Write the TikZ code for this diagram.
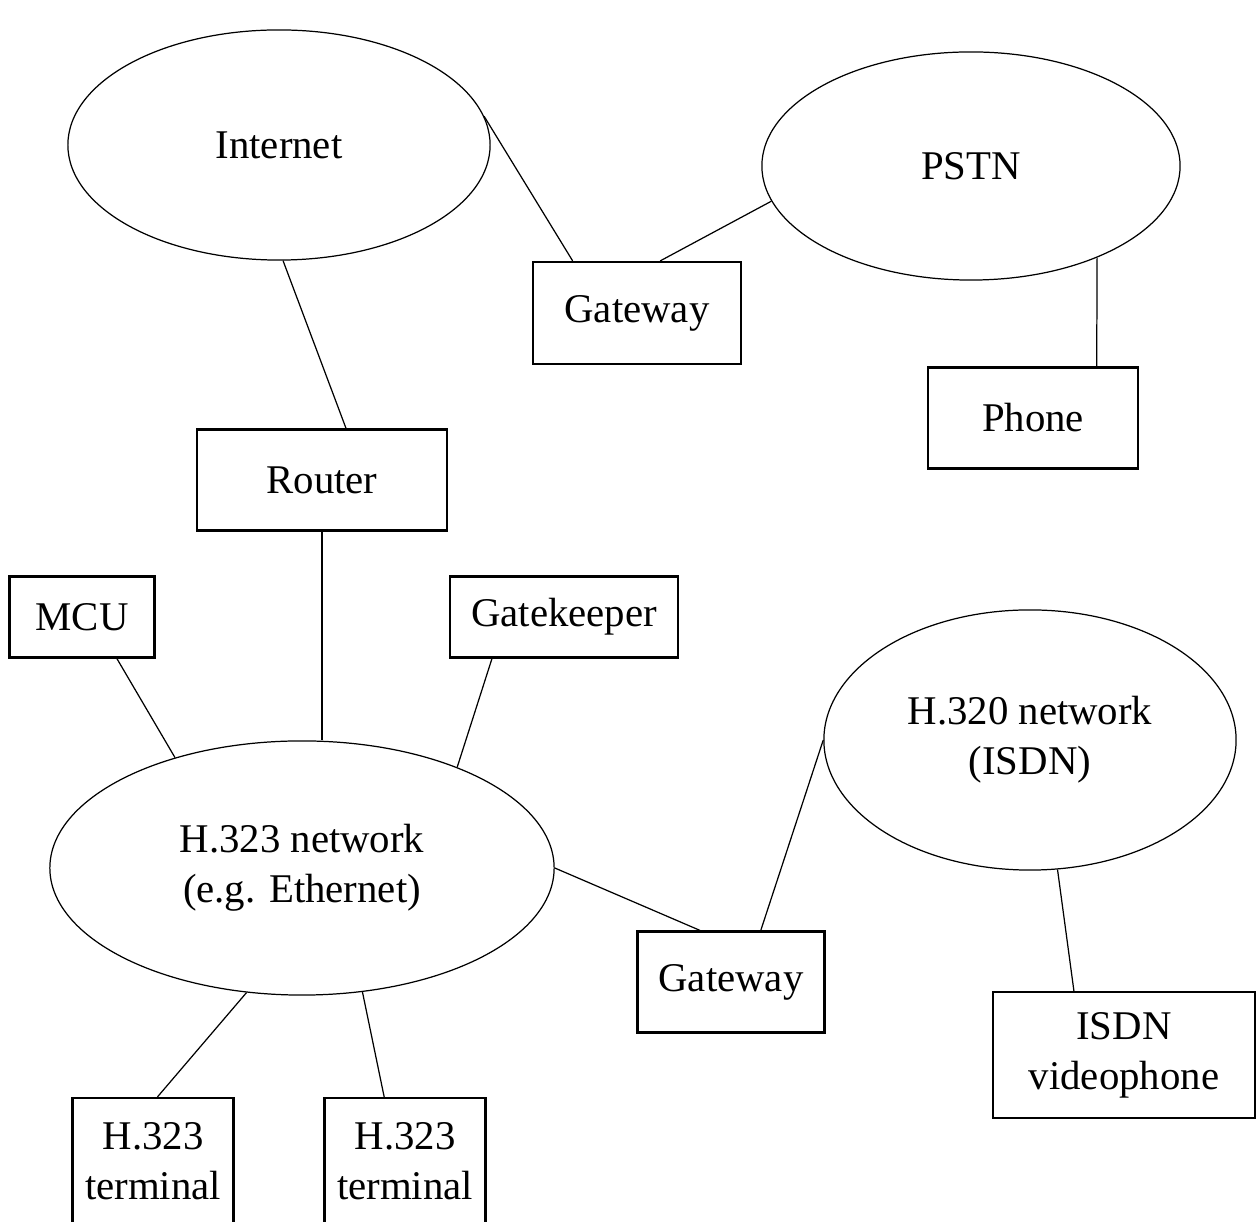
\documentclass[tikz,border=0pt]{standalone}
\usepackage{fontspec}
\setmainfont{Liberation Serif}
\usetikzlibrary{shapes.geometric}

\begin{document}
\begin{tikzpicture}[x=0.01cm,y=-0.01cm,
        box/.style={draw, line width=0.6pt, inner sep=0pt, align=center,
            font=\fontsize{11.6}{14.2}\selectfont},
        cloud/.style={draw, ellipse, line width=0.35pt, inner sep=0pt, align=center,
            font=\fontsize{11.6}{14.2}\selectfont},
        link/.style={line width=0.35pt}]
            \useasboundingbox (0,0) rectangle (1256,1222);
            % networks
            \node[cloud, minimum width=4.22cm, minimum height=2.30cm] (inet) at (279,145) {Internet};
            \node[cloud, minimum width=4.18cm, minimum height=2.28cm] (pstn) at (971,166) {PSTN};
            \node[cloud, minimum width=5.04cm, minimum height=2.54cm] (h323) at (302,868) {H.323 network\\(e.g. Ethernet)};
            \node[cloud, minimum width=4.12cm, minimum height=2.60cm] (h320) at (1030,740) {H.320 network\\(ISDN)};
            % devices
            \node[box, minimum width=2.08cm, minimum height=1.02cm] (gw1) at (637,313) {Gateway};
            \node[box, minimum width=2.09cm, minimum height=1.01cm] (phone) at (1033,418) {Phone};
            \node[box, minimum width=2.49cm, minimum height=1.01cm] (router) at (322,480) {Router};
            \node[box, minimum width=1.45cm, minimum height=0.81cm] (mcu) at (82,617) {MCU};
            \node[box, minimum width=2.28cm, minimum height=0.81cm] (gk) at (564,617) {Gatekeeper};
            \node[box, minimum width=1.87cm, minimum height=1.01cm] (gw2) at (731,982) {Gateway};
            \node[box, minimum width=2.62cm, minimum height=1.26cm] (isdn) at (1124,1055) {ISDN\\videophone};
            \node[box, minimum width=1.61cm, minimum height=1.26cm] (t1) at (153,1161) {H.323\\terminal};
            \node[box, minimum width=1.61cm, minimum height=1.26cm] (t2) at (405,1161) {H.323\\terminal};
            % links
            \draw[link] (inet.8) -- (gw1.141);
            \draw[link] (pstn.190) -- (gw1.66);
            \draw[link] (pstn.-36) -- (phone.39);
            \draw[link] (inet.-88) -- (router.65);
            \draw[link] (router.south) -- (router.south |- h323.north);
            \draw[link] (mcu.-50) -- (h323.139);
            \draw[link] (gk.210) -- (h323.33);
            \draw[link] (h323.east) -- (gw2.121);
            \draw[link] (h320.west) -- (gw2.60);
            \draw[link] (h320.-78) -- (isdn.128);
            \draw[link] (h323.246) -- (t1.86);
            \draw[link] (h323.-64) -- (t2.108);
        \end{tikzpicture}
\end{document}
